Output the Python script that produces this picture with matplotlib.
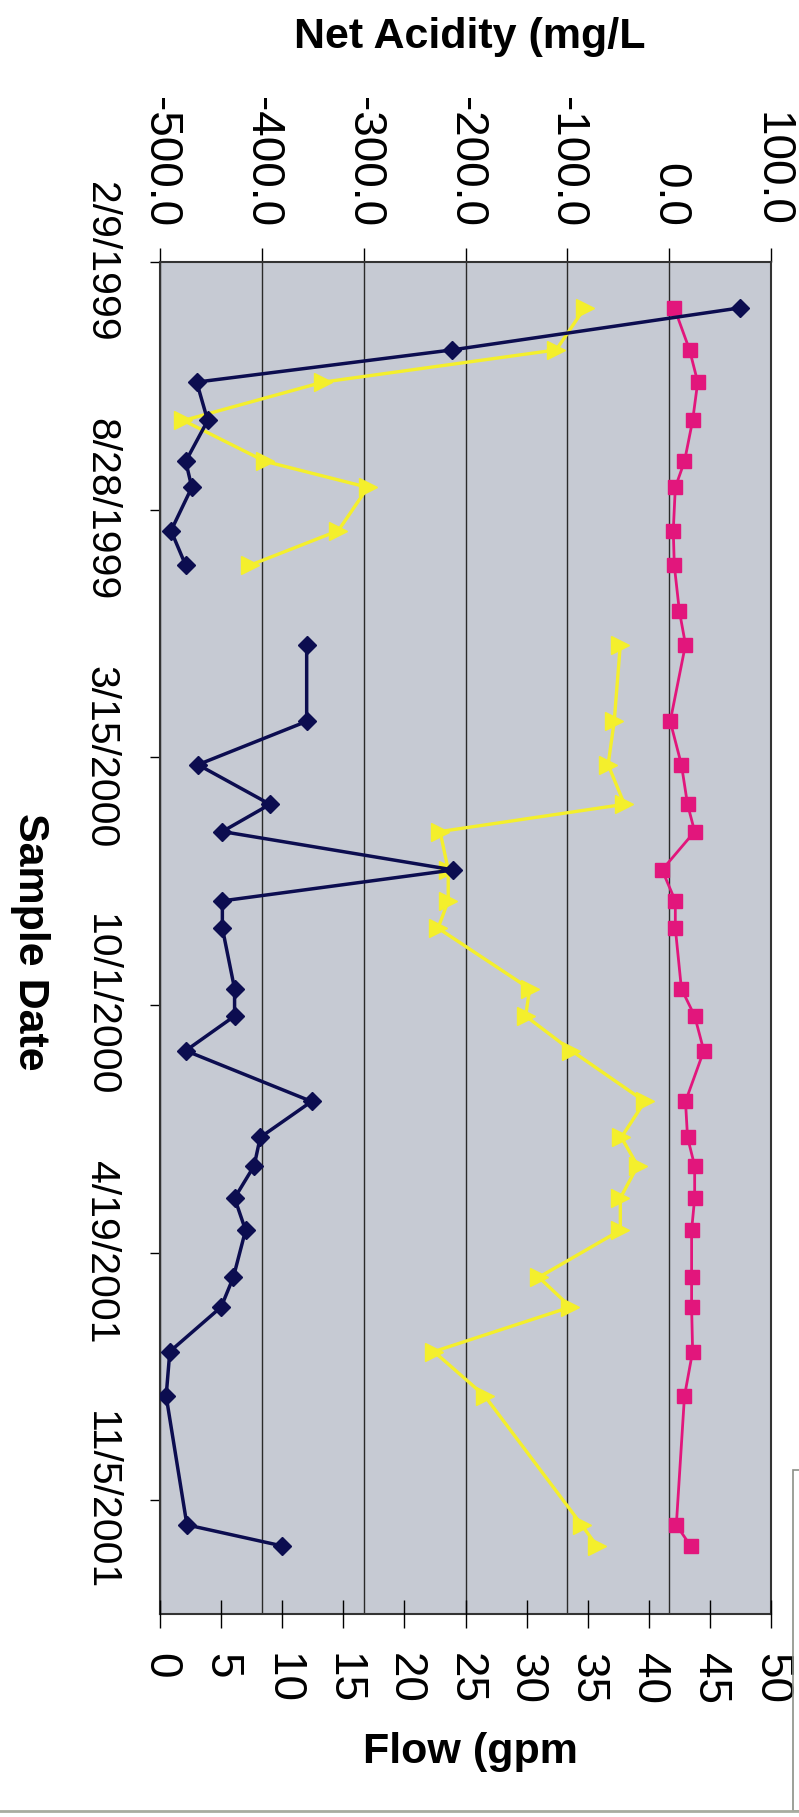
import numpy as np
import pandas as pd
import matplotlib
matplotlib.use('Agg')
import matplotlib.pyplot as plt
import matplotlib.dates as mdates
from matplotlib.ticker import FormatStrFormatter
from matplotlib.patches import Rectangle
from matplotlib.lines import Line2D

# sample dates shared by the three series
sample_dates = ['3/18/1999', '4/21/1999', '5/17/1999', '6/17/1999', '7/20/1999',
                '8/10/1999', '9/14/1999', '10/12/1999', '11/18/1999', '12/15/1999',
                '2/15/2000', '3/21/2000', '4/22/2000', '5/14/2000', '6/14/2000',
                '7/9/2000', '7/31/2000', '9/18/2000', '10/10/2000', '11/7/2000',
                '12/18/2000', '1/16/2001', '2/8/2001', '3/6/2001', '4/1/2001',
                '5/9/2001', '6/2/2001', '7/8/2001', '8/13/2001', '11/25/2001',
                '12/12/2001']

# flow (gpm), secondary axis
flow_gpm = [47.5, 23.9, 3.0, 3.9, 2.1, 2.6, 0.9, 2.1, np.nan, 12.0,
            12.0, 3.1, 9.0, 5.1, 24.0, 5.1, 5.1, 6.1, 6.1, 2.1,
            12.4, 8.2, 7.7, 6.1, 7.0, 6.0, 5.0, 0.8, 0.5, 2.2,
            10.0]

# net acidity (mg/L), primary axis
acid_pink = [5, 20, 28, 23, 15, 6, 4, 5, 10, 16,
             1, 12, 18, 25, -7, 6, 6, 12, 25, 34,
             16, 18, 25, 25, 22, 22, 22, 23, 15, 7,
             21]
acid_yellow = [-83, -111, -340, -477, -397, -296, -325, -412, np.nan, -48,
               -54, -60, -44, -225, -217, -217, -227, -137, -141, -96,
               -24, -47, -31, -48, -48, -128, -97, -231, -181, -86,
               -71]

date_ticks = ['2/9/1999', '8/28/1999', '3/15/2000', '10/1/2000', '4/19/2001', '11/5/2001']
date_start = '2/9/1999'
date_end = '2/5/2002'
acid_ticks = [-500, -400, -300, -200, -100, 0, 100]
flow_ticks = [0, 5, 10, 15, 20, 25, 30, 35, 40, 45, 50]


def to_num(dates):
    return mdates.date2num(pd.to_datetime(dates, format='%m/%d/%Y').to_pydatetime())


plt.rcParams['font.family'] = ['Liberation Sans', 'DejaVu Sans']

dnum = to_num(sample_dates)
tick_num = to_num(date_ticks)
d0, d1 = to_num([date_start, date_end])

fig = plt.figure(figsize=(7.99, 18.17), dpi=100)
ax = fig.add_axes([0.2003, 0.1117, 0.7647, 0.7441])
ax.set_facecolor('#c6cad3')
ax2 = ax.twiny()

ax.plot(acid_pink, dnum, color='#e2167c', marker='s', ms=10, lw=2, zorder=3)
ax.plot(acid_yellow, dnum, color='#f4ef2c', marker='>', ms=13, lw=2.4, zorder=3)
ax.set_xlim(-500, 100)
ax.set_ylim(d1, d0)

ax.xaxis.tick_top()
ax.set_xticks(acid_ticks)
ax.xaxis.set_major_formatter(FormatStrFormatter('%.1f'))
ax.grid(axis='x', color='#2a2a2a', lw=1)
ax.tick_params(axis='x', direction='out', length=10, width=1, labelsize=33,
               labelrotation=-90, pad=15)

ax.set_yticks(tick_num)
ax.set_yticklabels(date_ticks, rotation=-90, fontsize=29.5, va='center')
ax.tick_params(axis='y', direction='out', length=7, width=1, pad=22)
for s in ax.spines.values():
    s.set_color('#333333')
    s.set_linewidth(1.5)

ax2.plot(flow_gpm, dnum, color='#0c0d50', marker='D', ms=9, lw=2.5, zorder=4)
ax2.set_xlim(0, 50)
ax2.xaxis.tick_bottom()
ax2.set_xticks(flow_ticks)
ax2.tick_params(axis='x', direction='inout', length=20, width=1, labelsize=33,
                labelrotation=-90, pad=18)
for s in ax2.spines.values():
    s.set_visible(False)

# axis titles
fig.text(0.588, 0.9736, 'Net Acidity (mg/L', fontsize=31, fontweight='bold',
         ha='center', va='baseline')
fig.text(0.589, 0.0297, 'Flow (gpm', fontsize=31, fontweight='bold',
         ha='center', va='baseline')
fig.text(0.0375, 0.4816, 'Sample Date', fontsize=31, fontweight='bold',
         rotation=-90, ha='center', va='center')

# cut-off legend box and chart border
fig.add_artist(Rectangle((793 / 799, 6 / 1817), 0.2, 341 / 1817, fill=False,
                         edgecolor='#8c9088', lw=1.2, transform=fig.transFigure))
fig.add_artist(Line2D([0, 1], [6 / 1817, 6 / 1817], color='#a8aca0', lw=2,
                      transform=fig.transFigure))

fig.savefig('out.png', dpi=100)
